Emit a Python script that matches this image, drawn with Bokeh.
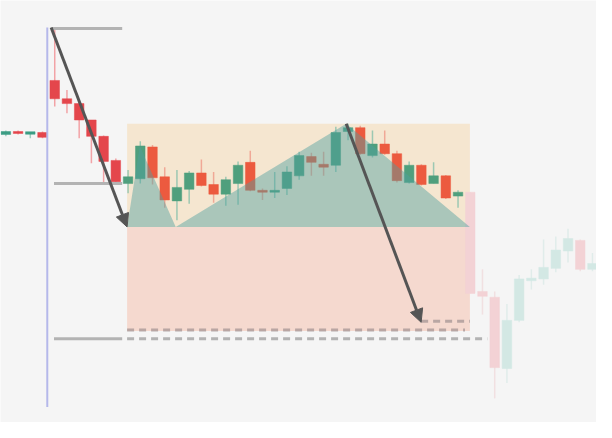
from bokeh.plotting import figure
from bokeh.models import Range1d, Arrow, NormalHead, ColumnDataSource
from bokeh.embed import file_html
from bokeh.resources import INLINE

# ---- candle data (index, open, high, low, close) ----
opens  = [149.5, 151, 150, 150.5, 177.5, 168, 165.5, 157, 148.5, 136,
          124, 126.5, 143, 127.5, 115, 121, 129.5, 123.5, 118.5, 124,
          135, 120.5, 119.5, 121.5, 128, 138, 134, 133.5, 151, 153,
          138.5, 144.5, 139.5, 124.5, 133.5, 124, 128, 117.5, 119.5, 68,
          65, 28, 53, 74, 74.5, 80, 89, 94.5, 79.5]
highs  = [151.5, 151.5, 150.5, 151, 204, 172.5, 166, 157, 149, 137,
          131, 146, 144, 132.5, 131, 130.5, 136.5, 130, 127.5, 135.5,
          141, 121.5, 130, 133, 140.5, 140, 140.5, 153.5, 155, 154,
          151.5, 151.5, 141, 135.5, 134, 135, 128.5, 120.5, 119.5, 79.5,
          68, 61.5, 76.5, 79.5, 95, 96.5, 100.5, 95, 88]
lows   = [148.5, 149.5, 147.5, 147.5, 164, 160.5, 147.5, 134.5, 124, 124,
          119, 124, 123.5, 111.5, 105, 113.5, 122.5, 114, 112.5, 113,
          120, 115.5, 116.5, 118, 126, 128, 128, 130, 146.5, 139,
          137.5, 139, 124.5, 124, 123, 124, 116, 111.5, 67, 56,
          12.5, 20.5, 52, 69, 71.5, 78, 83, 78.5, 78.5]
closes = [151, 150, 150.5, 148, 168, 165.5, 157, 148.5, 135.5, 125,
          127.5, 143.5, 127, 115.5, 122, 129.5, 123, 118.5, 126, 133.5,
          120.5, 119.5, 120.5, 130, 138.5, 135, 132.5, 150.5, 153, 139.5,
          144.5, 139.5, 125.5, 133.5, 123.5, 128, 116.5, 119.5, 67, 65.5,
          28.5, 53, 74.5, 74.5, 80.5, 89.5, 95.5, 79.5, 82.5]
idx = list(range(len(opens)))

# segments of the series: lead-in, analysed window, later (faded) candles
window_start, window_end = 10, 38

# ---- annotation levels (price units) ----
swing_high = 204.5
level_mid = 124
level_low = 43.5
box_top = 155
box_mid = 101.5
box_bottom = 47.5
target_1 = 52.5
target_2 = 48
marker_x = 3.39
box_left, box_right = 9.92, 37.97
pattern_x = [9.92, 10.96, 13.90, 27.85, 37.97]
pattern_y = [101.5, 143.5, 101.5, 155, 101.5]
arrow1 = (3.705, 205, 9.92, 101.5)
arrow2 = (27.85, 155, 33.98, 52)

p = figure(width=596, height=422, x_range=Range1d(-0.438, 48.33), y_range=Range1d(0, 219),
           output_backend="svg", toolbar_location=None, min_border=0,
           x_axis_location=None, y_axis_location=None,
           background_fill_color="#f5f5f5", border_fill_color="#f5f5f5",
           outline_line_color=None)
p.grid.grid_line_color = None

# boxes
p.quad(left=[box_left], right=[box_right], top=[box_top], bottom=[box_mid],
       fill_color="#f5e6d0", line_color=None)
p.quad(left=[box_left], right=[box_right], top=[box_mid], bottom=[box_bottom],
       fill_color="#f5d9cf", line_color=None)

def colors(i):
    up = closes[i] >= opens[i]
    if i < window_start:
        return ("#3c9d84", "#9fcdbf") if up else ("#e4464c", "#f2a3a6")
    if i < window_end:
        return ("#4f9f7d", "#9cc8b2") if up else ("#ec5a3f", "#f0a896")
    return ("#d3e8e4", "#e0ecea") if up else ("#f3d2d5", "#f1e0e1")

body_c, wick_c, tops, bots = [], [], [], []
for i in idx:
    b, w = colors(i)
    body_c.append(b)
    wick_c.append(w)
    tops.append(max(opens[i], closes[i]) + (0.4 if abs(opens[i] - closes[i]) < 1 else 0))
    bots.append(min(opens[i], closes[i]) - (0.4 if abs(opens[i] - closes[i]) < 1 else 0))

src = ColumnDataSource(dict(x=idx, high=highs, low=lows, top=tops, bottom=bots,
                            body=body_c, wick=wick_c))
p.segment(x0="x", x1="x", y0="high", y1="low", line_color="wick", line_width=1.5, source=src)
p.vbar(x="x", width=0.78, top="top", bottom="bottom", fill_color="body",
       line_color="body", line_width=0.5, source=src)

# pattern polygon
p.patch(pattern_x, pattern_y, fill_color="#50a0a0", fill_alpha=0.45, line_color=None)

# vertical marker
p.line([marker_x, marker_x], [205, 8], line_color="#b5b8ea", line_width=2)

# solid levels
for lvl in (swing_high, level_mid, level_low):
    p.line([3.75 if lvl == swing_high else 3.94, 9.52], [lvl, lvl],
           line_color="#b3b3b3", line_width=3)

# dashed targets
p.line([33.98, box_right], [target_1, target_1], line_color="#a09090", line_alpha=0.7,
       line_width=3, line_dash="7 5")
p.line([box_left, 37.57], [target_2, target_2], line_color="#a09090", line_alpha=0.7,
       line_width=3, line_dash="7 5")
p.line([box_left, 39.4], [level_low, level_low], line_color="#b3b3b3",
       line_width=3, line_dash="7 5")

for (xs, ys, xe, ye) in (arrow1, arrow2):
    p.add_layout(Arrow(end=NormalHead(size=13, fill_color="#555555", line_color="#555555"),
                       x_start=xs, y_start=ys, x_end=xe, y_end=ye,
                       line_color="#555555", line_width=3))

open("out.html", "w").write(file_html(p, INLINE))
